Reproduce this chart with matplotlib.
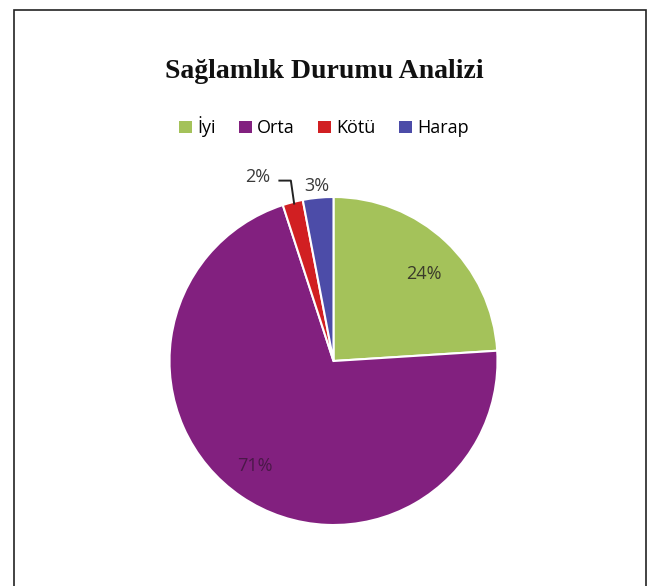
import matplotlib
matplotlib.use("Agg")
import matplotlib.pyplot as plt
from matplotlib.patches import Rectangle

categories = ["İyi", "Orta", "Kötü", "Harap"]
values = [24, 71, 2, 3]
labels = ["24%", "71%", "2%", "3%"]
colors = ["#A4C25A", "#82207F", "#D11F22", "#4C4CA8"]

fig = plt.figure(figsize=(6.48, 5.86), dpi=100)
fig.patch.set_facecolor("white")

# outer frame
fig.patches.append(Rectangle((14/648, -0.05), (646-14)/648, 1.05 - 10/586,
                             transform=fig.transFigure, fill=False,
                             edgecolor="#222222", linewidth=1.2))

cx, cy, r = 333.5, 361, 164
ax = fig.add_axes([(cx - r)/648, (586 - cy - r)/586, 2*r/648, 2*r/586])
wedges, _ = ax.pie(values, colors=colors, startangle=90, counterclock=False,
                   radius=1.0, wedgeprops=dict(edgecolor="white", linewidth=1.5))
ax.set_xlim(-1, 1)
ax.set_ylim(-1, 1)
ax.set_aspect("equal")
ax.axis("off")

# data labels
fs = 13
ax.text(0.55, 0.53, labels[0], ha="center", va="center", fontsize=fs,
        color="#3a3a2a", family="Open Sans")
ax.text(-0.48, -0.64, labels[1], ha="center", va="center", fontsize=fs,
        color="#4a1848", family="Open Sans")
ax.text(-0.46, 1.12, labels[2], ha="center", va="center", fontsize=fs,
        color="#3a3a3a", family="Open Sans")
ax.text(-0.10, 1.07, labels[3], ha="center", va="center", fontsize=fs,
        color="#3a3a3a", family="Open Sans")
ax.plot([-0.33, -0.26, -0.24], [1.10, 1.10, 0.96], color="#222222", lw=1.4,
        clip_on=False)

fig.text(0.50, 1 - 72/586, "Sağlamlık Durumu Analizi", ha="center", va="center",
         fontsize=20, fontweight="bold", family="Liberation Serif", color="#111111")

handles = [Rectangle((0, 0), 1, 1, facecolor=c) for c in colors]
fig.legend(handles, categories, loc="center", bbox_to_anchor=(0.50, 1 - 127/586),
           ncol=4, frameon=False, handlelength=0.7, handleheight=0.7,
           handletextpad=0.3, columnspacing=1.3,
           prop=dict(family="Open Sans", size=13))

fig.savefig("out.png", dpi=100, facecolor="white")
